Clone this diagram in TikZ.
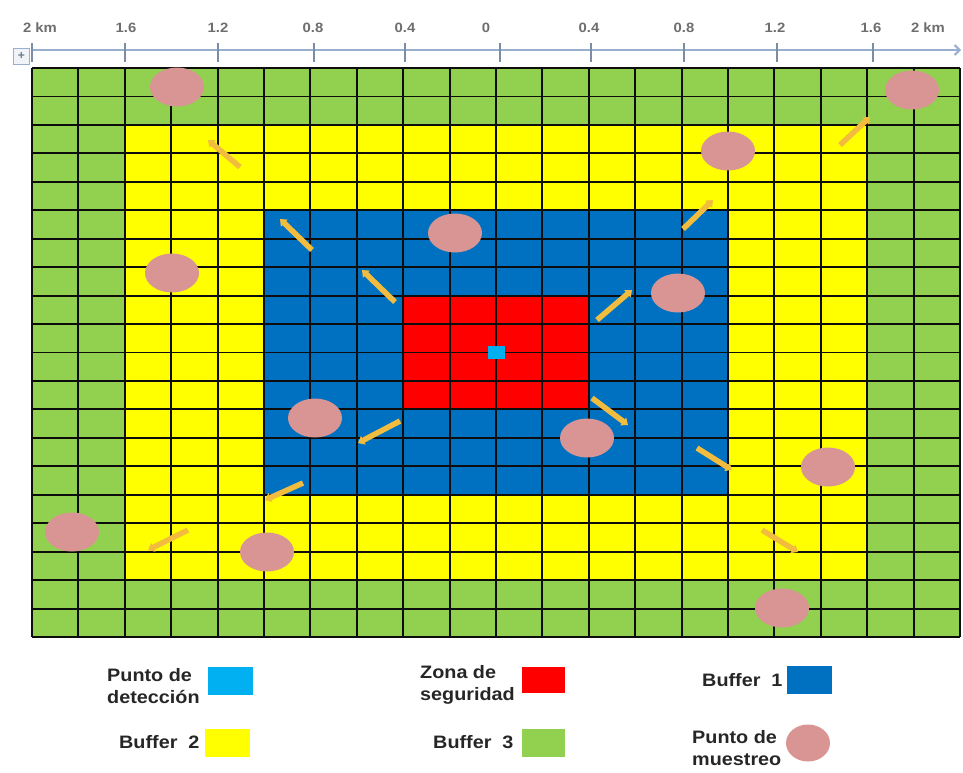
\documentclass[tikz,border=0pt]{standalone}
\usepackage{fontspec}
\setmainfont{Liberation Sans}
\newfontfamily\mapfont[FakeStretch=1.1]{Liberation Sans}
\usetikzlibrary{arrows.meta,positioning,shapes.geometric}
\definecolor{buffergreen}{HTML}{92D050}
\definecolor{bufferyellow}{HTML}{FFFF00}
\definecolor{bufferblue}{HTML}{0070C0}
\definecolor{safered}{HTML}{FF0000}
\definecolor{detectcyan}{HTML}{00B0F0}
\definecolor{samplepink}{HTML}{D99594}
\definecolor{arrowgold}{HTML}{F2BC3E}
\definecolor{rulerblue}{HTML}{9AAFCF}
\definecolor{labelgray}{HTML}{6E6E6E}

\begin{document}
\begin{tikzpicture}[
  x=1pt,y=-1pt,
  cellline/.style={draw=black!95,line width=1.9pt},
  sample/.style={ellipse,fill=samplepink,inner sep=0pt,minimum width=54pt,minimum height=39pt},
  spread/.style={-{Triangle[length=6pt,width=9.5pt]},line width=5.5pt,draw=arrowgold},
  swatch/.style={inner sep=0pt,minimum width=45pt,minimum height=28pt},
  legtext/.style={anchor=west,inner sep=0pt,align=left,text=black!85,
    font=\mapfont\bfseries\fontsize{18}{22}\selectfont},
  scalelabel/.style={text=labelgray,inner sep=0pt,font=\mapfont\bfseries\fontsize{13.5}{13.5}\selectfont}
]
\useasboundingbox (0,0) rectangle (963,772);
% cells and zones
\begin{scope}[shift={(32,68)},x=46.4pt,y=-28.45pt]
  \fill[buffergreen] (0,0) rectangle (20,20);
  \fill[bufferyellow] (2,2) rectangle (18,18);
  \fill[bufferblue] (5,5) rectangle (15,15);
  \fill[safered] (8,8) rectangle (12,12);
  \foreach \i in {0,...,20} {
    \draw[cellline] (\i,0) -- (\i,20);
    \draw[cellline] (0,\i) -- (20,\i);
  }
  \node[fill=detectcyan,minimum width=17pt,minimum height=13pt,inner sep=0pt] (detect) at (10,10) {};
\end{scope}
% scale bar
\coordinate (rulerstart) at (32,50);
\coordinate (rulerend) at (961,50);
\draw[rulerblue,line width=2pt,-{Straight Barb[length=5pt]}] (rulerstart) -- (rulerend);
\foreach \tx in {32,125,218,314,405,500,591,684,777,873}
  \draw[rulerblue!80!black,line width=1.3pt] (\tx,43) -- (\tx,62);
\foreach \lx/\lt in {40/2 km,126/1.6,218/1.2,313/0.8,405/0.4,486/0,589/0.4,684/0.8,775/1.2,871/1.6,928/2 km}
  \node[scalelabel] (lab\lx) at (\lx,28) {\lt};
\node[draw=rulerblue,fill=rulerblue!15,minimum width=16pt,minimum height=16pt,inner sep=0pt,
  text=rulerblue!70!black,font=\bfseries\fontsize{12}{12}\selectfont] (movebox) at (21.5,56) {+};
% sampling points
\node[sample] (s1) at (177,87) {};
\node[sample] (s2) at (912,90) {};
\node[sample] (s3) at (728,151) {};
\node[sample] (s4) at (455,233) {};
\node[sample] (s5) at (172,273) {};
\node[sample] (s6) at (678,293) {};
\node[sample] (s7) at (315,418) {};
\node[sample] (s8) at (587,438) {};
\node[sample] (s9) at (828,467) {};
\node[sample] (s10) at (72,532) {};
\node[sample] (s11) at (267,552) {};
\node[sample] (s12) at (782,608) {};
% outward arrows
\foreach \ax/\ay/\bx/\by in {240/167/208/140, 840/145/870/117, 683/229/713/200,
    312/250/280/219, 395/302/362/270, 597/320/632/290, 592/398/628/425,
    400/421/358/443, 697/448/732/470, 303/483/265/500, 188/530/148/550, 762/530/798/552}
  \draw[spread] (\ax,\ay) -- (\bx,\by);
% legend
\node[legtext] (detecttxt) at (107,686) {Punto de\\detección};
\node[swatch,fill=detectcyan] (detectkey) at (230,681) {};
\node[legtext] (safetxt) at (420,685) {Zona de\\seguridad};
\node[swatch,fill=safered,minimum width=43pt,minimum height=26pt] (safekey) at (543.5,680) {};
\node[legtext] (buf1txt) at (702,680) {Buffer\ \ 1};
\node[swatch,fill=bufferblue] (buf1key) at (809.5,679.5) {};
\node[legtext] (buf2txt) at (119,742) {Buffer\ \ 2};
\node[swatch,fill=bufferyellow] (buf2key) at (227.5,742.5) {};
\node[legtext] (buf3txt) at (433,742) {Buffer\ \ 3};
\node[swatch,fill=buffergreen,minimum width=43pt] (buf3key) at (543.5,742.5) {};
\node[legtext] (sampletxt) at (692,748) {Punto de\\muestreo};
\node[sample,minimum width=44pt,minimum height=37pt] (samplekey) at (808,743) {};
\end{tikzpicture}
\end{document}
